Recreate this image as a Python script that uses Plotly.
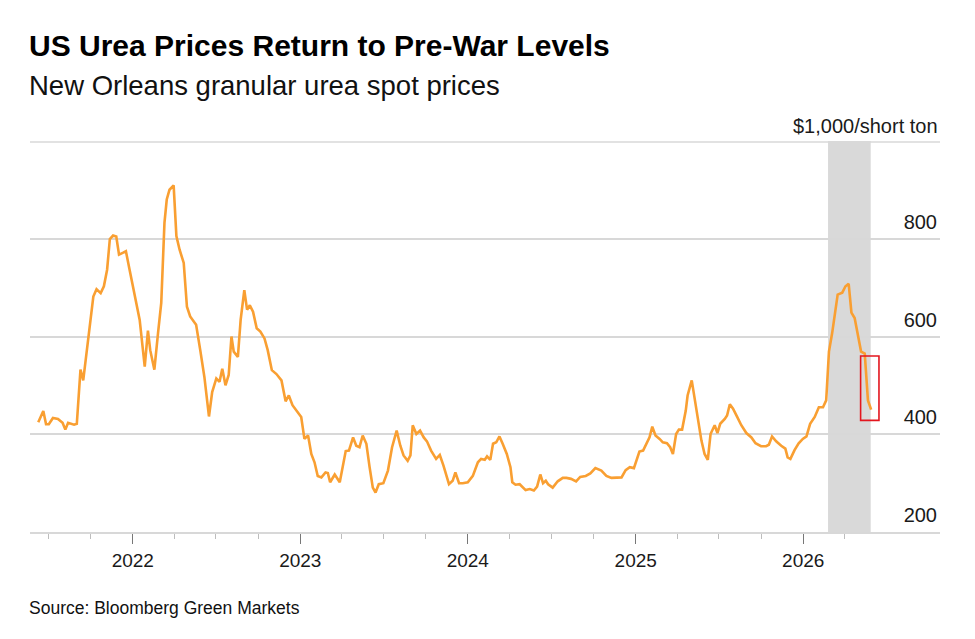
import plotly.graph_objects as go

dates = [
    "2021-06-09", "2021-06-20", "2021-06-26", "2021-07-02", "2021-07-11", "2021-07-22",
    "2021-08-01", "2021-08-07", "2021-08-13", "2021-08-26", "2021-09-01", "2021-09-09",
    "2021-09-15", "2021-09-26", "2021-10-07", "2021-10-14", "2021-10-23", "2021-10-30",
    "2021-11-06", "2021-11-12", "2021-11-19", "2021-11-26", "2021-12-02", "2021-12-11",
    "2021-12-17", "2021-12-25", "2022-01-05", "2022-01-16", "2022-01-27", "2022-02-03",
    "2022-02-08", "2022-02-17", "2022-02-25", "2022-03-04", "2022-03-11", "2022-03-16",
    "2022-03-22", "2022-03-31", "2022-04-06", "2022-04-13", "2022-04-22", "2022-04-29",
    "2022-05-06", "2022-05-19", "2022-05-28", "2022-06-06", "2022-06-16", "2022-06-23",
    "2022-07-02", "2022-07-09", "2022-07-15", "2022-07-22", "2022-07-29", "2022-08-04",
    "2022-08-09", "2022-08-18", "2022-08-24", "2022-09-01", "2022-09-07", "2022-09-13",
    "2022-09-20", "2022-09-28", "2022-10-06", "2022-10-15", "2022-10-22", "2022-10-31",
    "2022-11-10", "2022-11-21", "2022-11-30", "2022-12-07", "2022-12-15", "2022-12-25",
    "2023-01-03", "2023-01-10", "2023-01-18", "2023-01-25", "2023-02-01", "2023-02-08",
    "2023-02-16", "2023-02-25", "2023-03-02", "2023-03-07", "2023-03-17", "2023-03-28",
    "2023-04-04", "2023-04-10", "2023-04-17", "2023-04-26", "2023-05-03", "2023-05-10",
    "2023-05-17", "2023-05-25", "2023-06-01", "2023-06-08", "2023-06-14", "2023-06-21",
    "2023-07-01", "2023-07-11", "2023-07-20", "2023-07-30", "2023-08-07", "2023-08-14",
    "2023-08-23", "2023-08-29", "2023-09-03", "2023-09-11", "2023-09-19", "2023-09-27",
    "2023-10-04", "2023-10-13", "2023-10-24", "2023-11-01", "2023-11-09", "2023-11-21",
    "2023-11-29", "2023-12-05", "2023-12-13", "2023-12-21", "2024-01-01", "2024-01-12",
    "2024-01-23", "2024-01-30", "2024-02-07", "2024-02-12", "2024-02-19", "2024-02-25",
    "2024-03-03", "2024-03-10", "2024-03-17", "2024-03-26", "2024-04-03", "2024-04-07",
    "2024-04-14", "2024-04-23", "2024-05-06", "2024-05-15", "2024-05-24", "2024-05-31",
    "2024-06-07", "2024-06-13", "2024-06-19", "2024-06-24", "2024-07-04", "2024-07-15",
    "2024-07-26", "2024-08-03", "2024-08-13", "2024-08-24", "2024-09-02", "2024-09-14",
    "2024-09-24", "2024-10-05", "2024-10-18", "2024-10-29", "2024-11-09", "2024-11-20",
    "2024-12-01", "2024-12-10", "2024-12-19", "2024-12-28", "2025-01-04", "2025-01-09",
    "2025-01-17", "2025-01-25", "2025-01-31", "2025-02-06", "2025-02-13", "2025-02-22",
    "2025-03-01", "2025-03-10", "2025-03-17", "2025-03-23", "2025-03-30", "2025-04-05",
    "2025-04-12", "2025-04-20", "2025-04-24", "2025-05-03", "2025-05-13", "2025-05-24",
    "2025-05-31", "2025-06-07", "2025-06-13", "2025-06-22", "2025-06-28", "2025-07-04",
    "2025-07-14", "2025-07-19", "2025-07-25", "2025-08-01", "2025-08-10", "2025-08-19",
    "2025-08-30", "2025-09-10", "2025-09-19", "2025-10-01", "2025-10-12", "2025-10-18",
    "2025-10-25", "2025-11-03", "2025-11-14", "2025-11-23", "2025-11-28", "2025-12-04",
    "2025-12-13", "2025-12-22", "2025-12-31", "2026-01-08", "2026-01-16", "2026-01-26",
    "2026-02-04", "2026-02-13", "2026-02-20", "2026-02-26", "2026-03-05", "2026-03-12",
    "2026-03-17", "2026-03-27", "2026-04-03", "2026-04-10", "2026-04-16", "2026-04-23",
    "2026-05-01", "2026-05-07", "2026-05-15", "2026-05-22", "2026-05-29",
]

prices = [
    425, 448, 421, 421, 434, 432,
    424, 410, 424, 420, 422, 533,
    511, 600, 683, 698, 690, 704,
    738, 801, 808, 806, 769, 773,
    776, 738, 690, 635, 539, 613,
    573, 533, 608, 670, 834, 882,
    902, 911, 807, 779, 752, 662,
    642, 625, 573, 518, 437, 487,
    515, 508, 535, 501, 522, 601,
    570, 559, 635, 696, 656, 665,
    652, 618, 611, 597, 573, 532,
    524, 511, 468, 480, 460, 448,
    436, 391, 398, 360, 343, 315,
    312, 322, 321, 302, 318, 302,
    333, 366, 367, 394, 377, 374,
    398, 381, 333, 291, 281, 298,
    300, 326, 374, 408, 377, 357,
    346, 357, 419, 401, 408, 394,
    386, 367, 350, 358, 336, 298,
    305, 322, 300, 300, 302, 315,
    343, 350, 348, 355, 348, 381,
    384, 396, 381, 360, 333, 302,
    297, 298, 286, 288, 285, 293,
    318, 300, 305, 298, 291, 304,
    311, 311, 309, 304, 313, 315,
    320, 331, 326, 315, 311, 311,
    312, 327, 333, 331, 350, 365,
    367, 384, 394, 416, 398, 391,
    384, 382, 374, 360, 401, 410,
    410, 449, 480, 511, 456, 388,
    360, 348, 401, 419, 403, 422,
    432, 439, 462, 453, 436, 419,
    403, 394, 382, 376, 376, 379,
    396, 386, 377, 371, 353, 350,
    368, 382, 391, 396, 422, 436,
    456, 456, 470, 570, 608, 656,
    687, 691, 704, 709, 650, 639,
    601, 570, 566, 470, 451,
]

y_tick_vals = [200, 400, 600, 800, 1000]
y_tick_text = ["200", "400", "600", "800", ""]
unit_label = "$1,000/short ton"
unit_value = 1000

minor_tick_dates = [
    "2021-07-01", "2021-10-01",
    "2022-04-01", "2022-07-01", "2022-10-01",
    "2023-04-01", "2023-07-01", "2023-10-01",
    "2024-04-01", "2024-07-01", "2024-10-01",
    "2025-04-01", "2025-07-01", "2025-10-01",
    "2026-04-01",
]

war_period = ["2026-02-24", "2026-05-28"]
highlight_dates = ["2026-05-06", "2026-06-15"]
highlight_prices = [429, 561]

x_range = ["2021-05-22", "2026-10-26"]
y_range = [200, 1002]

GRID = "#d8d8d8"
FONT = "Liberation Sans"

fig = go.Figure()
fig.add_trace(go.Scatter(
    x=dates, y=prices, mode="lines",
    line=dict(color="#F99F32", width=2.6),
    hoverinfo="x+y", showlegend=False,
))

fig.add_shape(type="rect", xref="x", yref="paper",
              x0=war_period[0], x1=war_period[1], y0=0, y1=1,
              fillcolor="#d9d9d9", line=dict(width=0), layer="below")
# top gridline (at the unit label value)
fig.add_shape(type="line", xref="paper", yref="y",
              x0=0, x1=1, y0=unit_value, y1=unit_value,
              line=dict(color=GRID, width=1.5), layer="below")
fig.add_shape(type="rect", xref="x", yref="y",
              x0=highlight_dates[0], x1=highlight_dates[1],
              y0=highlight_prices[0], y1=highlight_prices[1],
              fillcolor="rgba(0,0,0,0)", line=dict(color="#E3161E", width=1.6),
              layer="above")

fig.update_layout(
    width=975, height=639,
    margin=dict(l=30, r=35, t=141, b=107),
    paper_bgcolor="white", plot_bgcolor="white",
    font=dict(family=FONT, color="#000000"),
    xaxis=dict(
        type="date", range=x_range,
        showgrid=False, zeroline=False,
        showline=True, linecolor=GRID, linewidth=2,
        ticks="outside", ticklen=10, tickwidth=1.3, tickcolor="#777777",
        dtick="M12", tick0="2022-01-01", tickformat="%Y",
        tickfont=dict(size=19, family=FONT, color="#1a1a1a"),
        minor=dict(tickvals=minor_tick_dates, ticks="outside",
                   ticklen=5, tickwidth=1, tickcolor="#bdbdbd", showgrid=False),
    ),
    yaxis=dict(
        range=y_range, side="right",
        tickvals=y_tick_vals, ticktext=y_tick_text,
        ticklabelposition="inside", ticks="",
        ticklabelshift=-17,
        showgrid=True, gridcolor=GRID, gridwidth=1.5,
        zeroline=False, showline=False,
        tickfont=dict(size=20, family=FONT, color="#1a1a1a"),
    ),
    annotations=[
        dict(text="<b>US Urea Prices Return to Pre-War Levels</b>",
             xref="paper", yref="paper", x=-0.003, y=1 + (141 - 45) / 391,
             xanchor="left", yanchor="middle", showarrow=False,
             font=dict(size=30, family=FONT, color="#000000")),
        dict(text="New Orleans granular urea spot prices",
             xref="paper", yref="paper", x=-0.003, y=1 + (141 - 85) / 391,
             xanchor="left", yanchor="middle", showarrow=False,
             font=dict(size=27.5, family=FONT, color="#111111")),
        dict(text=unit_label,
             xref="paper", yref="y", x=1, y=unit_value,
             xanchor="right", yanchor="bottom", yshift=3, showarrow=False,
             font=dict(size=20, family=FONT, color="#1a1a1a")),
        dict(text="Source: Bloomberg Green Markets",
             xref="paper", yref="paper", x=-0.003, y=-(608 - 532) / 391,
             xanchor="left", yanchor="middle", showarrow=False,
             font=dict(size=17.5, family=FONT, color="#111111")),
    ],
)

fig.write_html("out.html", config={"displayModeBar": False},
               post_script="document.body.style.margin='0px';")
